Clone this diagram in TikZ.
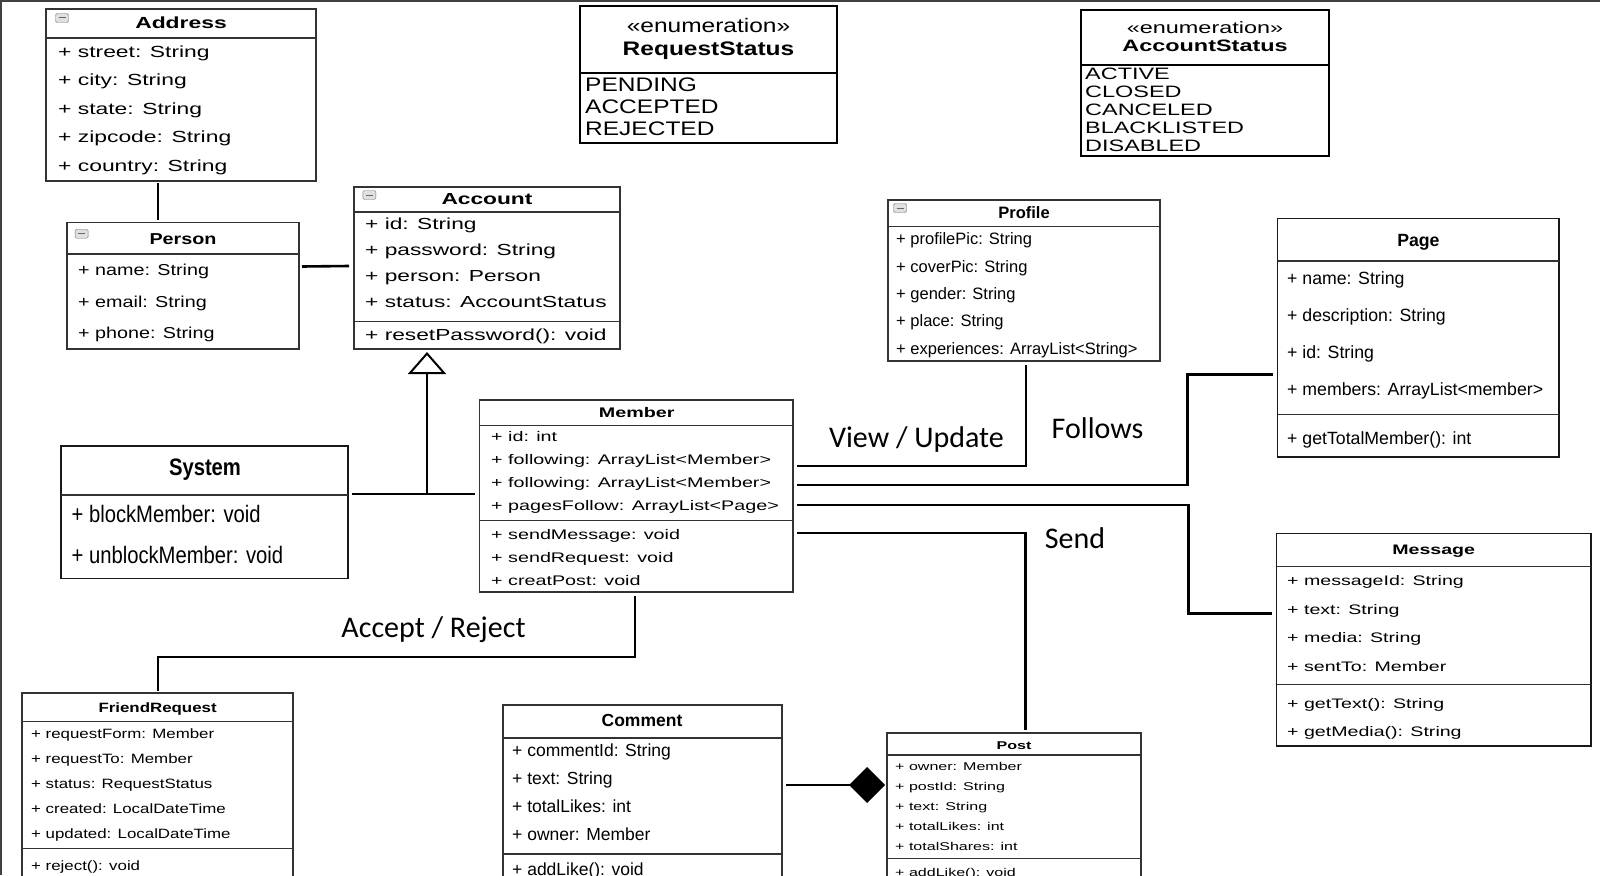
\documentclass[tikz,border=0pt]{standalone}
\usepackage{fontspec}
\setmainfont{Liberation Sans}
\newfontfamily\widefont[FakeStretch=1.42]{Liberation Sans}
\newfontfamily\midfont[FakeStretch=1.25]{Liberation Sans}
\newfontfamily\plainfont{Liberation Sans}
\newfontfamily\narrowfont[FakeStretch=0.85]{Liberation Sans}
\newfontfamily\labelfont{Carlito}
\usetikzlibrary{arrows.meta,calc}

\tikzset{
    cls/.style={draw=black!80, line width=1.4pt, fill=white, inner sep=0pt, outer sep=0pt},
    enum/.style={cls, draw=black, line width=2pt},
    divider/.style={draw=black!80, line width=1.4pt},
    conn/.style={draw=black, line width=2.6pt},
    attr/.style={anchor=west, inner sep=0pt, text height=1.1em, text depth=0.08em},
    ttl/.style={attr, anchor=center},
    lbl/.style={anchor=base, inner sep=0pt, font=\labelfont\fontsize{30}{36}\selectfont},
    icon/.style={draw=black!55, fill=black!12, rounded corners=1.5pt, minimum width=13pt,
        minimum height=9pt, inner sep=0pt,
        path picture={\draw[black!60, line width=1pt] ([xshift=3pt]path picture bounding box.west)
            -- ([xshift=-3pt]path picture bounding box.east);}},
}

\begin{document}
\begin{tikzpicture}[x=1pt, y=-1pt]
        \useasboundingbox (0,0) rectangle (1600,875);
        \clip (0,0) rectangle (1600,875);
        \draw[black!75, line width=2pt] (0,1) -- (1600,1);
        \draw[black!75, line width=2pt] (1,0) -- (1,875);

        \node[cls, minimum width=270pt, minimum height=172pt] (address) at (181, 95) {};
        \draw[divider] ($(address.north west)+(0,29)$) -- ++(270,0);
        \node[icon] (address-icon) at (62, 18) {};
        \begin{scope}[font=\widefont\fontsize{16.1}{19}\selectfont]
            \node[ttl] (address-title) at (181, 23) {\bfseries Address};
            \foreach \attrtext [count=\i] in {street, city, state, zipcode, country}
                \node[attr] (address-\i) at (58, {52+28.55*(\i-1)}) {+ \attrtext: String};
        \end{scope}

        \node[cls, minimum width=232pt, minimum height=126.5pt] (person) at (183, 285.75) {};
        \draw[divider] ($(person.north west)+(0,31.5)$) -- ++(232,0);
        \node[icon] (person-icon) at (81.6, 233.7) {};
        \begin{scope}[font=\midfont\fontsize{15.8}{19}\selectfont]
            \node[ttl] (person-title) at (183, 239) {\bfseries Person};
            \foreach \attrtext [count=\i] in {name, email, phone}
                \node[attr] (person-\i) at (78, {270.4+31.65*(\i-1)}) {+ \attrtext: String};
        \end{scope}

        \node[cls, minimum width=266pt, minimum height=162pt] (account) at (487, 268) {};
        \draw[divider] ($(account.north west)+(0,25)$) -- ++(266,0);
        \draw[divider] ($(account.north west)+(0,134.5)$) -- ++(266,0);
        \node[icon] (account-icon) at (369.4, 195) {};
        \begin{scope}[font=\widefont\fontsize{16}{19}\selectfont]
            \node[ttl] (account-title) at (487, 199) {\bfseries Account};
            \foreach \attrtext [count=\i] in {id: String, password: String, person: Person, status: AccountStatus}
                \node[attr] (account-\i) at (365, {224.5+25.8*(\i-1)}) {+ \attrtext};
            \node[attr] (account-m1) at (365, 335.7) {+ resetPassword(): void};
        \end{scope}

        \node[enum, minimum width=257pt, minimum height=137pt] (reqstatus) at (708.5, 74.5) {};
        \draw[enum] ($(reqstatus.north west)+(0,67)$) -- ++(257,0);
        \begin{scope}[font=\midfont\fontsize{19.6}{22}\selectfont]
            \node[ttl] (reqstatus-stereo) at (708.5, 27.5) {«enumeration»};
            \node[ttl] (reqstatus-title) at (708.5, 50) {\bfseries RequestStatus};
            \foreach \attrtext [count=\i] in {PENDING, ACCEPTED, REJECTED}
                \node[attr] (reqstatus-\i) at (585, {86.7+21.95*(\i-1)}) {\attrtext};
        \end{scope}

        \node[enum, minimum width=248pt, minimum height=146pt] (accstatus) at (1205, 83) {};
        \draw[enum] ($(accstatus.north west)+(0,55.3)$) -- ++(248,0);
        \begin{scope}[font=\widefont\fontsize{16.5}{19}\selectfont]
            \node[ttl] (accstatus-stereo) at (1205, 28.6) {«enumeration»};
            \node[ttl] (accstatus-title) at (1205, 46) {\bfseries AccountStatus};
            \foreach \attrtext [count=\i] in {ACTIVE, CLOSED, CANCELED, BLACKLISTED, DISABLED}
                \node[attr] (accstatus-\i) at (1085, {74.5+17.87*(\i-1)}) {\attrtext};
        \end{scope}

        \node[cls, minimum width=272pt, minimum height=161pt] (profile) at (1024, 280.5) {};
        \draw[divider] ($(profile.north west)+(0,26.5)$) -- ++(272,0);
        \node[icon] (profile-icon) at (900, 208) {};
        \begin{scope}[font=\plainfont\fontsize{16.5}{19}\selectfont]
            \node[ttl] (profile-title) at (1024, 213) {\bfseries Profile};
            \foreach \attrtext [count=\i] in {profilePic: String, coverPic: String, gender: String, place: String, experiences: ArrayList<String>}
                \node[attr] (profile-\i) at (896, {239.8+27.3*(\i-1)}) {+ \attrtext};
        \end{scope}

        \node[cls, draw=black!90, minimum width=281.4pt, minimum height=238.6pt] (page) at (1418.3, 337.7) {};
        \draw[divider] ($(page.north west)+(0,42.6)$) -- ++(281.4,0);
        \draw[divider] ($(page.north west)+(0,195.9)$) -- ++(281.4,0);
        \begin{scope}[font=\plainfont\fontsize{17.7}{21}\selectfont]
            \node[ttl] (page-title) at (1418.4, 241) {\bfseries Page};
            \foreach \attrtext [count=\i] in {name: String, description: String, id: String, members: ArrayList<member>}
                \node[attr] (page-\i) at (1287, {279.6+37.07*(\i-1)}) {+ \attrtext};
            \node[attr] (page-m1) at (1287, 439.8) {+ getTotalMember(): int};
        \end{scope}

        \node[cls, minimum width=313.4pt, minimum height=192pt] (member) at (636.3, 496) {};
        \draw[divider] ($(member.north west)+(0,25.5)$) -- ++(313.4,0);
        \draw[divider] ($(member.north west)+(0,120.4)$) -- ++(313.4,0);
        \begin{scope}[font=\widefont\fontsize{13.9}{17}\selectfont]
            \node[ttl] (member-title) at (636.7, 412.2) {\bfseries Member};
            \foreach \attrtext [count=\i] in {id: int, following: ArrayList<Member>, following: ArrayList<Member>, pagesFollow: ArrayList<Page>}
                \node[attr] (member-\i) at (491, {436.7+22.8*(\i-1)}) {+ \attrtext};
            \foreach \attrtext [count=\i] in {sendMessage: void, sendRequest: void, creatPost: void}
                \node[attr] (member-m\i) at (491, {534.7+22.95*(\i-1)}) {+ \attrtext};
        \end{scope}

        \node[cls, draw=black!90, minimum width=287pt, minimum height=132.6pt] (system) at (204.5, 512.3) {};
        \draw[divider] ($(system.north west)+(0,49)$) -- ++(287,0);
        \begin{scope}[font=\narrowfont\fontsize{23.8}{27}\selectfont]
            \node[ttl] (system-title) at (205, 470.4) {\bfseries System};
            \node[attr] (system-m1) at (71.4, 517.4) {+ blockMember: void};
            \node[attr] (system-m2) at (71.4, 558.2) {+ unblockMember: void};
        \end{scope}

        \node[cls, minimum width=271pt, minimum height=207pt] (request) at (157.5, 796.5) {};
        \draw[divider] ($(request.north west)+(0,28.5)$) -- ++(271,0);
        \draw[divider] ($(request.north west)+(0,155.5)$) -- ++(271,0);
        \begin{scope}[font=\midfont\fontsize{13.5}{16}\selectfont]
            \node[ttl] (request-title) at (157.6, 707.6) {\bfseries FriendRequest};
            \foreach \attrtext [count=\i] in {requestForm: Member, requestTo: Member, status: RequestStatus, created: LocalDateTime, updated: LocalDateTime}
                \node[attr] (request-\i) at (31, {733.5+24.9*(\i-1)}) {+ \attrtext};
            \node[attr] (request-m1) at (31, 865) {+ reject(): void};
        \end{scope}

        \node[cls, minimum width=279pt, minimum height=195pt] (comment) at (642.5, 802.5) {};
        \draw[divider] ($(comment.north west)+(0,33)$) -- ++(279,0);
        \draw[divider] ($(comment.north west)+(0,149)$) -- ++(279,0);
        \begin{scope}[font=\plainfont\fontsize{17.5}{21}\selectfont]
            \node[ttl] (comment-title) at (642, 721.5) {\bfseries Comment};
            \foreach \attrtext [count=\i] in {commentId: String, text: String, totalLikes: int, owner: Member}
                \node[attr] (comment-\i) at (512, {751+28.2*(\i-1)}) {+ \attrtext};
            \node[attr] (comment-m1) at (512, 870.4) {+ addLike(): void};
        \end{scope}

        \node[cls, minimum width=254pt, minimum height=167pt] (post) at (1014, 816.5) {};
        \draw[divider] ($(post.north west)+(0,22)$) -- ++(254,0);
        \draw[divider] ($(post.north west)+(0,125.5)$) -- ++(254,0);
        \begin{scope}[font=\widefont\fontsize{11.3}{14}\selectfont]
            \node[ttl] (post-title) at (1014, 744) {\bfseries Post};
            \foreach \attrtext [count=\i] in {owner: Member, postId: String, text: String, totalLikes: int, totalShares: int}
                \node[attr] (post-\i) at (895, {765+20*(\i-1)}) {+ \attrtext};
            \node[attr] (post-m1) at (895, 871.5) {+ addLike(): void};
        \end{scope}

        \node[cls, draw=black!90, minimum width=314.5pt, minimum height=212.3pt] (message) at (1433.75, 639.85) {};
        \draw[divider] ($(message.north west)+(0,32.6)$) -- ++(314.5,0);
        \draw[divider] ($(message.north west)+(0,151)$) -- ++(314.5,0);
        \begin{scope}[font=\widefont\fontsize{13.8}{17}\selectfont]
            \node[ttl] (message-title) at (1433.7, 549) {\bfseries Message};
            \foreach \attrtext [count=\i] in {messageId: String, text: String, media: String, sentTo: Member}
                \node[attr] (message-\i) at (1287, {580.6+28.6*(\i-1)}) {+ \attrtext};
            \node[attr] (message-m1) at (1287, 703) {+ getText(): String};
            \node[attr] (message-m2) at (1287, 731.6) {+ getMedia(): String};
        \end{scope}

        \draw[conn] ($(address.south west)+(112,2)$) -- ($(person.north west)+(91,-3)$);
        \draw[conn] ($(person.north east)+(3,44)$) -- ($(account.north west)+(-5,79)$);

        \coordinate (junction) at ($(account.south west)+(73,145)$);
        \draw[conn] ($(system.north east)+(4,48)$) -- (junction) -- ($(member.north west)+(-5,94)$);
        \draw[conn, -{Triangle[open, length=22pt, width=38pt, line width=2pt]}] (junction) -- ($(account.south west)+(73,3)$);

        \draw[conn] ($(member.north east)+(4,66)$) -| ($(profile.south)+(2,4)$);
        \draw[conn] ($(member.north east)+(4,85)$) -| ($(page.north west)+(-90,156)$) -- ($(page.north west)+(-5,156)$);
        \draw[conn] ($(member.north east)+(4,105)$) -| ($(message.north west)+(-88,80)$) -- ($(message.north west)+(-5,80)$);
        \draw[conn] ($(member.north east)+(4,133)$) -| ($(post.north)+(11.5,-3)$);
        \draw[conn] ($(member.south)+(-1.3,4)$) |- ($(request.north)+(0.5,-36)$) -- ($(request.north)+(0.5,-2)$);
        \draw[conn, -{Diamond[length=36pt, width=36pt]}] ($(comment.north east)+(4,80)$) -- ($(post.north west)+(-2,52)$);

        \node[lbl] (viewlabel) at (916.5, 447.3) {View / Update};
        \node[lbl] (followlabel) at (1097.5, 438.3) {Follows};
        \node[lbl] (sendlabel) at (1075, 548.3) {Send};
        \node[lbl] (acceptlabel) at (433.5, 637.3) {Accept / Reject};
\end{tikzpicture}
\end{document}
